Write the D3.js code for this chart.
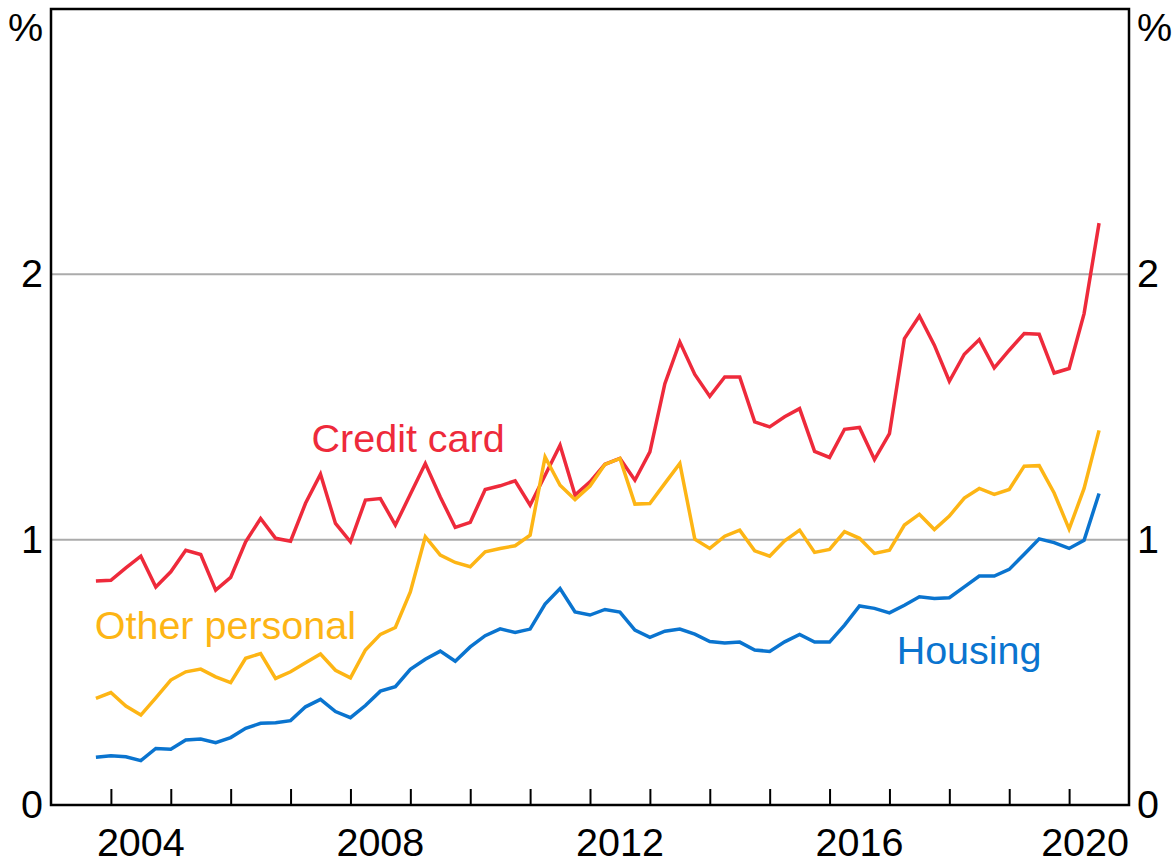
<!DOCTYPE html>
<meta charset="utf-8">

<head>
  <script src="https://d3js.org/d3.v7.min.js"></script>
  <style>
    body { margin: 0; background: #fff; }
    text { font-family: Arial, "Liberation Sans", sans-serif; }
  </style>
</head>

<body>
  <svg id="root"></svg>

  <script>
    // quarter-end dates, Sep 2003 to Jun 2020
    const quarters = [
      "2003-09", "2003-12",
      "2004-03", "2004-06", "2004-09", "2004-12",
      "2005-03", "2005-06", "2005-09", "2005-12",
      "2006-03", "2006-06", "2006-09", "2006-12",
      "2007-03", "2007-06", "2007-09", "2007-12",
      "2008-03", "2008-06", "2008-09", "2008-12",
      "2009-03", "2009-06", "2009-09", "2009-12",
      "2010-03", "2010-06", "2010-09", "2010-12",
      "2011-03", "2011-06", "2011-09", "2011-12",
      "2012-03", "2012-06", "2012-09", "2012-12",
      "2013-03", "2013-06", "2013-09", "2013-12",
      "2014-03", "2014-06", "2014-09", "2014-12",
      "2015-03", "2015-06", "2015-09", "2015-12",
      "2016-03", "2016-06", "2016-09", "2016-12",
      "2017-03", "2017-06", "2017-09", "2017-12",
      "2018-03", "2018-06", "2018-09", "2018-12",
      "2019-03", "2019-06", "2019-09", "2019-12",
      "2020-03", "2020-06"
    ];

    const creditCard = [
      0.844, 0.847, 0.894, 0.938, 0.822, 0.879, 0.960, 0.944, 0.810, 0.858,
      0.992, 1.080, 1.005, 0.994, 1.137, 1.247, 1.061, 0.992, 1.149, 1.155,
      1.055, 1.171, 1.287, 1.161, 1.046, 1.065, 1.189, 1.203, 1.222, 1.130,
      1.243, 1.356, 1.168, 1.218, 1.284, 1.306, 1.224, 1.331, 1.588, 1.745,
      1.623, 1.540, 1.613, 1.613, 1.444, 1.425, 1.463, 1.494, 1.333, 1.310,
      1.416, 1.423, 1.302, 1.400, 1.758, 1.843, 1.733, 1.597, 1.699, 1.754,
      1.647, 1.714, 1.777, 1.774, 1.628, 1.645, 1.852, 2.193
    ];

    const otherPersonal = [
      0.402, 0.424, 0.373, 0.339, 0.404, 0.471, 0.502, 0.512, 0.483, 0.461,
      0.553, 0.571, 0.477, 0.502, 0.536, 0.569, 0.508, 0.479, 0.584, 0.643,
      0.669, 0.803, 1.011, 0.942, 0.914, 0.898, 0.954, 0.967, 0.977, 1.017,
      1.312, 1.205, 1.151, 1.202, 1.284, 1.306, 1.134, 1.136, 1.212, 1.287,
      1.002, 0.967, 1.013, 1.036, 0.958, 0.938, 0.996, 1.036, 0.952, 0.963,
      1.030, 1.005, 0.948, 0.960, 1.055, 1.096, 1.038, 1.089, 1.157, 1.193,
      1.171, 1.189, 1.277, 1.279, 1.176, 1.040, 1.193, 1.412
    ];

    const housing = [
      0.180, 0.186, 0.182, 0.167, 0.213, 0.210, 0.245, 0.249, 0.235, 0.254,
      0.289, 0.308, 0.310, 0.318, 0.370, 0.398, 0.352, 0.329, 0.375, 0.429,
      0.446, 0.511, 0.549, 0.580, 0.542, 0.596, 0.638, 0.664, 0.650, 0.663,
      0.757, 0.816, 0.728, 0.716, 0.737, 0.727, 0.659, 0.632, 0.655, 0.663,
      0.644, 0.616, 0.611, 0.614, 0.584, 0.579, 0.615, 0.643, 0.614, 0.614,
      0.678, 0.750, 0.741, 0.724, 0.753, 0.785, 0.778, 0.781, 0.822, 0.863,
      0.863, 0.888, 0.945, 1.003, 0.989, 0.967, 0.998, 1.174
    ];

    const yearTicks = d3.range(2004, 2021);
    const yearLabels = [2004, 2008, 2012, 2016, 2020];
    const yTicks = [0, 1, 2];
    const gridValues = [1, 2];

    const fontSize = 39.5;

    const margin = { top: 9, right: 46, bottom: 59, left: 51 },
      width = 1175 - margin.left - margin.right,
      height = 864 - margin.top - margin.bottom;

    const svg = d3.select("#root")
      .attr("width", width + margin.left + margin.right)
      .attr("height", height + margin.top + margin.bottom)
      .append("g")
      .attr("transform", "translate(" + margin.left + "," + margin.top + ")");

    const toYear = s => +s.slice(0, 4) + +s.slice(5, 7) / 12;

    const xScale = d3.scaleLinear([2003, 2021], [0, width]);
    const yScale = d3.scaleLinear([0, 3], [height, 0]);

    // gridlines
    svg.append("g")
      .selectAll("line")
      .data(gridValues)
      .join("line")
      .attr("x1", 0)
      .attr("x2", width)
      .attr("y1", d => yScale(d))
      .attr("y2", d => yScale(d))
      .attr("stroke", "#ababab")
      .attr("stroke-width", 2);

    // year ticks on the bottom axis, pointing inward
    svg.append("g")
      .attr("transform", `translate(0,${height})`)
      .call(d3.axisBottom(xScale).tickValues(yearTicks).tickSize(-16).tickFormat(""))
      .call(g => g.select(".domain").remove())
      .call(g => g.selectAll(".tick line").attr("stroke", "#000").attr("stroke-width", 2));

    // year labels, centred in their year
    svg.append("g")
      .selectAll("text")
      .data(yearLabels)
      .join("text")
      .attr("x", d => xScale(d + 0.5))
      .attr("y", height + 51)
      .attr("text-anchor", "middle")
      .attr("font-size", fontSize)
      .attr("fill", "#000")
      .text(d => d)
      .each(function () {
        // keep the last label inside the frame
        const box = this.getBBox();
        if (box.x + box.width > width) {
          d3.select(this).attr("x", +d3.select(this).attr("x") - (box.x + box.width - width));
        }
      });

    // y labels both sides
    const leftAxis = d3.axisLeft(yScale).tickValues(yTicks).tickSize(0).tickPadding(8).tickFormat(d3.format("d"));
    const rightAxis = d3.axisRight(yScale).tickValues(yTicks).tickSize(0).tickPadding(8).tickFormat(d3.format("d"));
    [svg.append("g").call(leftAxis),
     svg.append("g").attr("transform", `translate(${width},0)`).call(rightAxis)]
      .forEach(g => {
        g.select(".domain").remove();
        g.selectAll(".tick text")
          .attr("font-size", fontSize)
          .attr("font-family", "Arial, 'Liberation Sans', sans-serif")
          .attr("fill", "#000");
      });

    svg.append("text")
      .attr("x", -8)
      .attr("y", 18)
      .attr("dy", "0.35em")
      .attr("text-anchor", "end")
      .attr("font-size", fontSize)
      .text("%");

    svg.append("text")
      .attr("x", width + 8)
      .attr("y", 18)
      .attr("dy", "0.35em")
      .attr("text-anchor", "start")
      .attr("font-size", fontSize)
      .text("%");

    // series lines
    const line = d3.line()
      .x((d, i) => xScale(toYear(quarters[i])))
      .y(d => yScale(d));

    const series = [
      { name: "Credit card", values: creditCard, color: "#ee2a3b" },
      { name: "Other personal", values: otherPersonal, color: "#fdb515" },
      { name: "Housing", values: housing, color: "#0a74cf" }
    ];

    svg.append("g")
      .selectAll("path")
      .data(series)
      .join("path")
      .attr("fill", "none")
      .attr("stroke", d => d.color)
      .attr("stroke-width", 3.5)
      .attr("d", d => line(d.values));

    // series labels
    const labels = [
      { text: "Credit card", x: 2007.35, y: 1.33, color: "#ee2a3b" },
      { text: "Other personal", x: 2003.73, y: 0.625, color: "#fdb515" },
      { text: "Housing", x: 2017.12, y: 0.53, color: "#0a74cf" }
    ];

    svg.append("g")
      .selectAll("text")
      .data(labels)
      .join("text")
      .attr("x", d => xScale(d.x))
      .attr("y", d => yScale(d.y))
      .attr("font-size", fontSize)
      .attr("fill", d => d.color)
      .text(d => d.text);

    // frame
    svg.append("rect")
      .attr("x", 0)
      .attr("y", 0)
      .attr("width", width)
      .attr("height", height)
      .attr("fill", "none")
      .attr("stroke", "#000")
      .attr("stroke-width", 2.5);
  </script>
</body>
